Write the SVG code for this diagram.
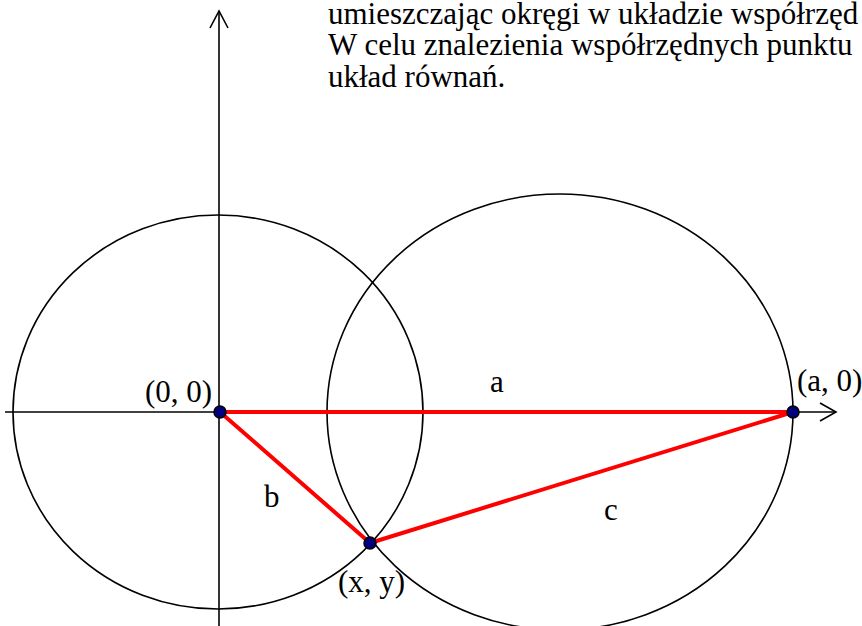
<svg xmlns="http://www.w3.org/2000/svg" width="862" height="626" viewBox="0 0 862 626">
<style>
.t{font-family:"Liberation Serif","Tinos","Times New Roman",serif;font-size:31px;fill:#000}
.c{fill:none;stroke:#000;stroke-width:1.6}
.ax{fill:none;stroke:#000;stroke-width:1.6}
.r{stroke:#f00;stroke-width:4;stroke-linecap:round}
.p{fill:#00007f;stroke:#000;stroke-width:1.5}
</style>
<rect width="862" height="626" fill="#fff"/>
<g id="text">
<text class="t" x="328" y="24">umieszczając okręgi w układzie współrzęd</text>
<text class="t" x="328" y="55">W celu znalezienia współrzędnych punktu</text>
<text class="t" x="328" y="87">układ równań.</text>
</g>
<g id="circle1"><ellipse class="c" cx="218" cy="412" rx="205" ry="197"/></g>
<g id="circle2"><ellipse class="c" cx="560" cy="412" rx="233" ry="218"/></g>
<g id="connectors">
<line class="ax" x1="5" y1="412" x2="836" y2="412"/>
<polyline class="ax" points="820,403 836,412 820,421"/>
<line class="ax" x1="219" y1="11" x2="219" y2="626"/>
<polyline class="ax" points="210,28 219,11 228,28"/>
<line class="r" x1="220" y1="412" x2="793" y2="412"/>
<line class="r" x1="220" y1="412" x2="370" y2="543"/>
<line class="r" x1="370" y1="543" x2="793" y2="412"/>
</g>
<g id="p00"><circle class="p" cx="220" cy="412" r="6"/><text class="t" x="145" y="402">(0, 0)</text></g>
<g id="pa0"><circle class="p" cx="793" cy="412" r="6"/><text class="t" x="797" y="391">(a, 0)</text></g>
<g id="pxy"><circle class="p" cx="370" cy="543" r="6"/><text class="t" x="338" y="592">(x, y)</text></g>
<g id="labels">
<text class="t" x="490" y="392">a</text>
<text class="t" x="264" y="507">b</text>
<text class="t" x="604" y="520">c</text>
</g>
</svg>
